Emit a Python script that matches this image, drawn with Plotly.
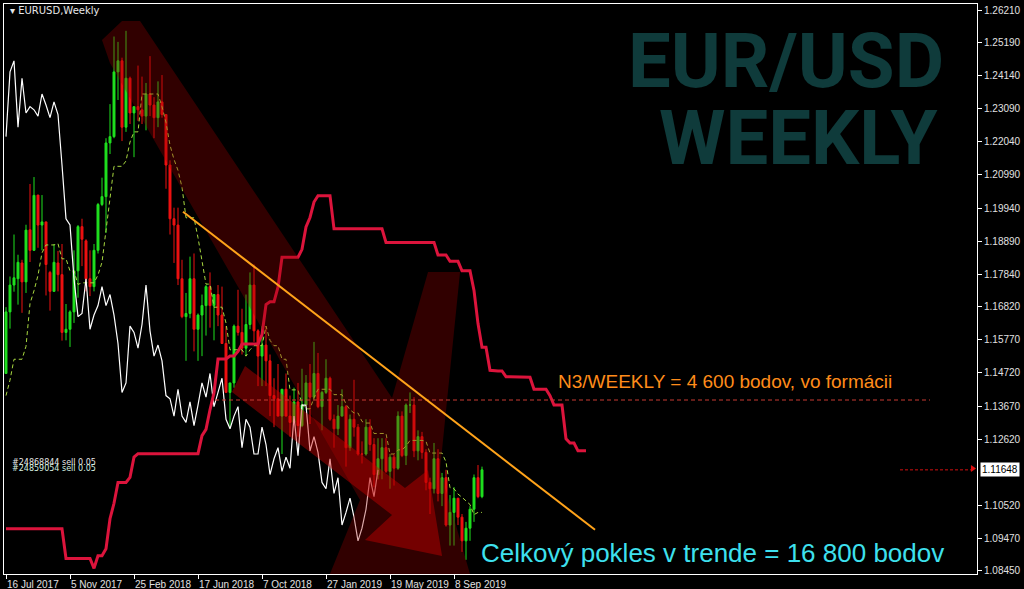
import plotly.graph_objects as go

# ---------------- data ----------------
dates = ["16 Jul 2017", "5 Nov 2017", "25 Feb 2018", "17 Jun 2018",
         "7 Oct 2018", "27 Jan 2019", "19 May 2019", "8 Sep 2019"]
date_idx = [0, 16, 32, 48, 64, 80, 96, 112]

opens = [1.1470,1.1665,1.1750,1.1770,1.1820,1.1760,1.1925,1.1860,1.2035,1.1940,
         1.1950,1.1790,1.1730,1.1820,1.1783,1.1600,1.1610,1.1665,1.1795,1.1935,
         1.1890,1.1770,1.1745,1.1860,1.2005,1.2030,1.2200,1.2220,1.2425,1.2460,
         1.2250,1.2405,1.2295,1.2315,1.2305,1.2285,1.2355,1.2320,1.2280,1.2330,
         1.2290,1.2130,1.1960,1.1940,1.1770,1.1650,1.1660,1.1770,1.1610,1.1655,
         1.1685,1.1745,1.1685,1.1720,1.1655,1.1565,1.1410,1.1440,1.1620,1.1600,
         1.1550,1.1625,1.1750,1.1605,1.1525,1.1560,1.1510,1.1400,1.1390,1.1335,
         1.1420,1.1335,1.1315,1.1380,1.1305,1.1370,1.1440,1.1395,1.1470,1.1365,
         1.1410,1.1455,1.1325,1.1295,1.1335,1.1365,1.1235,1.1325,1.1300,1.1215,
         1.1215,1.1300,1.1245,1.1150,1.1200,1.1235,1.1160,1.1205,1.1170,1.1335,
         1.1210,1.1370,1.1370,1.1225,1.1270,1.1220,1.1125,1.1105,1.1200,1.1090,
         1.1140,1.0990,1.1030,1.1075,1.1015,1.0940,1.0980,1.1040,1.1140,1.1080]
highs = [1.1680,1.1777,1.1910,1.1846,1.1830,1.1941,1.2070,1.2092,1.2035,1.2035,
         1.1950,1.1795,1.1880,1.1858,1.1880,1.1690,1.1670,1.1860,1.1940,1.1960,
         1.1895,1.1860,1.1880,1.2010,1.2090,1.2215,1.2323,1.2537,1.2520,1.2470,
         1.2555,1.2410,1.2315,1.2445,1.2410,1.2390,1.2475,1.2345,1.2395,1.2415,
         1.2290,1.2145,1.1995,1.1995,1.1830,1.1725,1.1840,1.1850,1.1660,1.1720,
         1.1750,1.1790,1.1720,1.1750,1.1745,1.1620,1.1440,1.1625,1.1735,1.1675,
         1.1720,1.1790,1.1815,1.1610,1.1620,1.1620,1.1530,1.1455,1.1500,1.1420,
         1.1470,1.1400,1.1425,1.1440,1.1485,1.1465,1.1500,1.1570,1.1535,1.1415,
         1.1515,1.1460,1.1340,1.1370,1.1420,1.1370,1.1340,1.1450,1.1310,1.1255,
         1.1325,1.1325,1.1265,1.1265,1.1265,1.1265,1.1215,1.1215,1.1350,1.1350,
         1.1375,1.1410,1.1395,1.1290,1.1285,1.1230,1.1140,1.1250,1.1230,1.1155,
         1.1165,1.1085,1.1110,1.1075,1.1025,1.1000,1.1050,1.1150,1.1180,1.1175]
lows = [1.1470,1.1612,1.1729,1.1688,1.1662,1.1725,1.1823,1.1858,1.1868,1.1860,
        1.1717,1.1669,1.1729,1.1730,1.1574,1.1575,1.1554,1.1630,1.1710,1.1810,
        1.1730,1.1715,1.1730,1.1850,1.2000,1.1915,1.2165,1.2215,1.2336,1.2206,
        1.2235,1.2260,1.2155,1.2270,1.2260,1.2240,1.2285,1.2215,1.2250,1.2280,
        1.2055,1.1910,1.1820,1.1750,1.1645,1.1510,1.1645,1.1540,1.1510,1.1525,
        1.1590,1.1615,1.1575,1.1620,1.1565,1.1410,1.1300,1.1425,1.1590,1.1530,
        1.1525,1.1610,1.1570,1.1430,1.1430,1.1430,1.1335,1.1300,1.1335,1.1215,
        1.1335,1.1270,1.1315,1.1270,1.1300,1.1370,1.1310,1.1385,1.1360,1.1290,
        1.1405,1.1320,1.1235,1.1275,1.1335,1.1175,1.1225,1.1270,1.1210,1.1185,
        1.1210,1.1225,1.1110,1.1135,1.1135,1.1155,1.1105,1.1115,1.1165,1.1205,
        1.1180,1.1345,1.1205,1.1195,1.1200,1.1100,1.1025,1.1090,1.1065,1.1050,
        1.0985,1.0925,1.0925,1.0990,1.0905,1.0880,1.0940,1.1000,1.1075,1.1075]
closes = [1.1665,1.1750,1.1773,1.1822,1.1760,1.1924,1.1860,1.2034,1.1940,1.1950,
          1.1815,1.1730,1.1822,1.1783,1.1600,1.1610,1.1665,1.1795,1.1935,1.1895,
          1.1770,1.1745,1.1860,1.2005,1.2030,1.2200,1.2220,1.2425,1.2460,1.2250,
          1.2405,1.2295,1.2315,1.2305,1.2285,1.2355,1.2320,1.2280,1.2330,1.2290,
          1.2130,1.1960,1.1940,1.1770,1.1650,1.1660,1.1770,1.1610,1.1655,1.1685,
          1.1745,1.1685,1.1720,1.1655,1.1565,1.1410,1.1440,1.1620,1.1600,1.1550,
          1.1625,1.1750,1.1605,1.1525,1.1560,1.1510,1.1400,1.1390,1.1335,1.1420,
          1.1335,1.1315,1.1380,1.1305,1.1370,1.1440,1.1395,1.1470,1.1365,1.1410,
          1.1455,1.1325,1.1295,1.1335,1.1365,1.1235,1.1325,1.1300,1.1215,1.1215,
          1.1300,1.1245,1.1150,1.1200,1.1235,1.1160,1.1205,1.1170,1.1335,1.1210,
          1.1370,1.1370,1.1225,1.1270,1.1220,1.1125,1.1105,1.1200,1.1090,1.1140,
          1.0990,1.1030,1.1075,1.1015,1.0940,1.0980,1.1040,1.1140,1.1080,1.1165]

# Tenkan-sen (thin dashed line) values read per bar
tenkan = [1.1400,1.1449,1.1515,1.1515,1.1515,1.1556,1.1691,1.1732,1.1781,1.1852,
          1.1877,1.1877,1.1877,1.1881,1.1833,1.1833,1.1795,1.1795,1.1752,1.1757,
          1.1757,1.1757,1.1757,1.1782,1.1822,1.1923,1.2017,1.2126,1.2126,1.2126,
          1.2143,1.2203,1.2235,1.2235,1.2355,1.2355,1.2355,1.2355,1.2355,1.2315,
          1.2265,1.2193,1.2148,1.2113,1.2060,1.1963,1.1963,1.1963,1.1900,1.1828,
          1.1753,1.1753,1.1680,1.1680,1.1680,1.1630,1.1545,1.1545,1.1545,1.1545,
          1.1525,1.1545,1.1558,1.1558,1.1558,1.1620,1.1575,1.1558,1.1558,1.1515,
          1.1515,1.1418,1.1418,1.1418,1.1373,1.1358,1.1358,1.1393,1.1420,1.1420,
          1.1420,1.1420,1.1403,1.1403,1.1403,1.1373,1.1355,1.1345,1.1345,1.1318,
          1.1313,1.1313,1.1280,1.1280,1.1280,1.1280,1.1215,1.1215,1.1228,1.1228,
          1.1240,1.1258,1.1258,1.1258,1.1258,1.1255,1.1218,1.1218,1.1218,1.1218,
          1.1190,1.1108,1.1105,1.1088,1.1078,1.1065,1.1055,1.1023,1.1030,1.1030]

# Senkou span B (thick crimson line), bars 0..145 (projected 26 bars ahead)
senkou_b = ([1.0978] * 15 + [1.0884] * 7 + [1.0853, 1.0893, 1.0893, 1.0915, 1.1010, 1.1059,
            1.1125, 1.1125, 1.1125, 1.1141, 1.1205] + [1.1216] * 16 +
            [1.1273, 1.1293, 1.1355, 1.1409, 1.1516, 1.1516, 1.1516, 1.1525, 1.1525, 1.1540,
             1.1563, 1.1563, 1.1563, 1.1563, 1.1563, 1.1593, 1.1688, 1.1697, 1.1697, 1.1743,
             1.1838, 1.1838, 1.1838, 1.1838, 1.1838, 1.1863, 1.1934, 1.1964, 1.2013,
             1.2033, 1.2033, 1.2033, 1.2033] + [1.1928] * 13 + [1.1885] * 13 +
            [1.1845] * 3 + [1.1825] * 3 + [1.1795] * 3 +
            [1.1733, 1.1628, 1.1553, 1.1553, 1.1480, 1.1478, 1.1478, 1.1478] +
            [1.1460] * 6 + [1.1458] + [1.1420] * 4 + [1.1400] + [1.1370] * 3 +
            [1.1263, 1.1250, 1.1250, 1.1225, 1.1225, 1.1225])

chikou_shift = 26
price_ticks = [1.26210, 1.25190, 1.24140, 1.23090, 1.22040, 1.20990, 1.19940, 1.18890,
               1.17840, 1.16820, 1.15770, 1.14720, 1.13670, 1.12620, 1.10520, 1.09470, 1.08450]
current_price = 1.11648
n3_level = 1.1386
trend_pts = [(44.25, 1.1982), (147.25, 1.0975)]

# ---------------- geometry (screen pixels) ----------------
W, H = 1024, 589
L, R, T, B = 4, 977, 4, 574          # plot area in pixels
def px(x):
    return (x - L) / (R - L)
def py(y):
    return (B - y) / (B - T)
def poly(pts):
    return "M " + " L ".join(f"{px(a):.4f},{py(b):.4f}" for a, b in pts) + " Z"

n = len(closes)
idx = list(range(n))

fig = go.Figure()

fig.add_trace(go.Candlestick(
    x=idx, open=opens, high=highs, low=lows, close=closes,
    increasing=dict(line=dict(color="#1fe01f", width=1), fillcolor="#1fe01f"),
    decreasing=dict(line=dict(color="#ee1111", width=1), fillcolor="#ee1111"),
    whiskerwidth=0, showlegend=False, hoverinfo="skip"))

fig.add_trace(go.Scatter(x=idx, y=tenkan, mode="lines",
                         line=dict(color="#a8d840", width=1, dash="4px,3px"),
                         showlegend=False, hoverinfo="skip"))

fig.add_trace(go.Scatter(x=list(range(n - chikou_shift)), y=closes[chikou_shift:], mode="lines",
                         line=dict(color="#ffffff", width=1.2),
                         showlegend=False, hoverinfo="skip"))

fig.add_trace(go.Scatter(x=list(range(len(senkou_b))), y=senkou_b, mode="lines",
                         line=dict(color="#dc143c", width=3),
                         showlegend=False, hoverinfo="skip"))

shapes = []
# translucent red arrows drawn on the chart
dark = "rgba(150,0,0,0.33)"
bright = "rgba(210,0,0,0.42)"
shapes.append(dict(type="path", xref="paper", yref="paper", layer="above", line=dict(width=0),
                   fillcolor=dark,
                   path=poly([(102, 40), (122, 21), (140, 21), (392, 398), (428, 272), (460, 272),
                              (440, 470), (470, 574), (330, 574), (360, 500), (110, 63)])))
shapes.append(dict(type="path", xref="paper", yref="paper", layer="above", line=dict(width=0),
                   fillcolor=bright,
                   path=poly([(245, 366), (405, 488), (428, 470), (442, 556), (365, 540),
                              (392, 515), (232, 392)])))

# N3 dashed level
shapes.append(dict(type="line", xref="x", yref="y", x0=52.25, x1=231, y0=n3_level, y1=n3_level,
                   line=dict(color="#c83a32", width=1, dash="4px,3px")))
# trend line
shapes.append(dict(type="line", xref="x", yref="y", x0=trend_pts[0][0], y0=trend_pts[0][1],
                   x1=trend_pts[1][0], y1=trend_pts[1][1], line=dict(color="#ffa31a", width=2)))
# current price line + marker
shapes.append(dict(type="line", xref="x", yref="y", x0=223.5, x1=241.3, y0=current_price,
                   y1=current_price, line=dict(color="#d01010", width=1, dash="3px,2px")))
shapes.append(dict(type="path", xref="paper", yref="paper", layer="above", line=dict(width=0),
                   fillcolor="#e01010",
                   path=poly([(971, 465), (976, 468.5), (971, 472)])))

annotations = []
annotations.append(dict(xref="paper", yref="paper", x=px(8), y=py(10), xanchor="left",
                        yanchor="middle", showarrow=False, text="▾ EURUSD,Weekly",
                        font=dict(family="DejaVu Sans", size=10, color="#e6e6e6")))
big_font = dict(family="Roboto, Liberation Sans", size=76, color="#0f3b3b")
annotations.append(dict(xref="paper", yref="paper", x=px(946), y=py(61), xanchor="right",
                        yanchor="middle", showarrow=False, text="<b>EUR/USD</b>", font=big_font))
annotations.append(dict(xref="paper", yref="paper", x=px(940), y=py(138), xanchor="right",
                        yanchor="middle", showarrow=False, text="<b>WEEKLY</b>", font=big_font))
annotations.append(dict(xref="paper", yref="paper", x=px(556), y=py(381), xanchor="left",
                        yanchor="middle", showarrow=False,
                        text="N3/WEEKLY = 4 600 bodov, vo formácii",
                        font=dict(family="Liberation Sans", size=19, color="#ff8c1a")))
annotations.append(dict(xref="paper", yref="paper", x=px(479), y=py(553), xanchor="left",
                        yanchor="middle", showarrow=False,
                        text="Celkový pokles v trende = 16 800 bodov",
                        font=dict(family="Liberation Sans", size=26, color="#3ee0ee")))
annotations.append(dict(xref="paper", yref="paper", x=px(10), y=py(462), xanchor="left",
                        yanchor="middle", showarrow=False, text="#24868844 sell 0.05",
                        font=dict(family="DejaVu Sans", size=8, color="#e8e8e8")))
annotations.append(dict(xref="paper", yref="paper", x=px(10), y=py(468), xanchor="left",
                        yanchor="middle", showarrow=False, text="#24859054 sell 0.05",
                        font=dict(family="DejaVu Sans", size=8, color="#d8f0e0")))
annotations.append(dict(xref="paper", yref="y", x=px(980), y=current_price, xanchor="left",
                        yanchor="middle", showarrow=False, text="1.11648", bgcolor="#ffffff",
                        borderpad=1, font=dict(family="Liberation Sans", size=10, color="#000000")))
for d, i in zip(dates, date_idx):
    annotations.append(dict(xref="x", yref="paper", x=i - 0.3, y=py(577), xanchor="left",
                            yanchor="top", showarrow=False, text=d,
                            font=dict(family="Liberation Sans", size=10, color="#e0e0e0")))

fig.update_layout(
    width=W, height=H, autosize=False,
    margin=dict(l=L, r=W - R, t=T, b=H - B, pad=0),
    paper_bgcolor="#000000", plot_bgcolor="#000000",
    shapes=shapes, annotations=annotations, showlegend=False,
    xaxis=dict(range=[-0.5, 242.75], showgrid=False, zeroline=False, rangeslider=dict(visible=False),
               tickvals=date_idx, ticktext=[""] * len(date_idx), ticks="outside", ticklen=4,
               tickcolor="#ffffff", showline=True, linecolor="#ffffff", mirror=True,
               automargin=False, fixedrange=True),
    yaxis=dict(range=[1.0835, 1.2640], side="right", showgrid=False, zeroline=False,
               tickvals=price_ticks, ticktext=[f"{v:.5f}" for v in price_ticks],
               ticks="outside", ticklen=4, tickcolor="#ffffff",
               tickfont=dict(family="Liberation Sans", size=10, color="#e0e0e0"),
               showline=True, linecolor="#ffffff", mirror=True, automargin=False,
               fixedrange=True),
)

fig.write_html("out.html", config={"displayModeBar": False},
               post_script="document.body.style.margin='0';document.body.style.background='#000';")
